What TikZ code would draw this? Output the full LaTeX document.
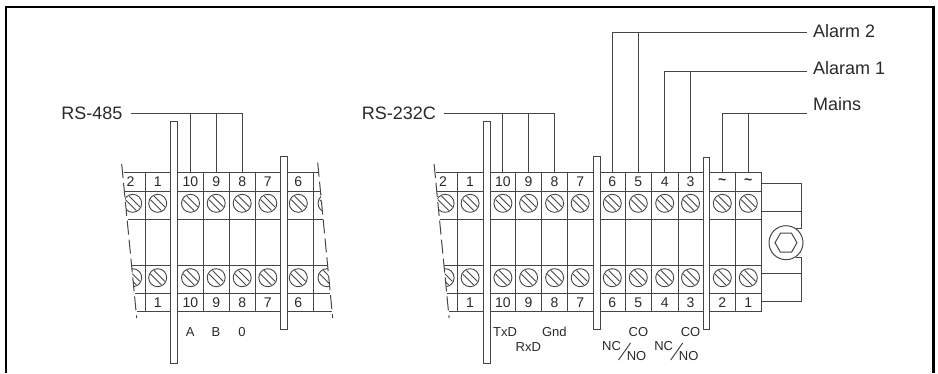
\documentclass[tikz,border=0pt]{standalone}
\usepackage{fontspec}
\setmainfont{Liberation Sans}
\usetikzlibrary{calc,shapes.geometric}
\definecolor{wire}{rgb}{0.27,0.27,0.27}
\definecolor{ink}{rgb}{0.16,0.16,0.16}
\tikzset{
	x=1pt,
	y=-1pt,
	wire/.style={draw=wire, line width=1pt},
	bar/.style={draw=wire, line width=1pt, fill=white},
	screw/.style={draw=wire, line width=0.9pt},
	pin/.style={text=ink, font=\fontsize{14}{14}\selectfont, inner sep=0pt},
	sig/.style={text=ink, font=\fontsize{13}{13}\selectfont, inner sep=0pt},
	tag/.style={text=ink, font=\fontsize{18}{18}\selectfont, inner sep=0pt},
}
% one screw head with its slot
\newcommand{\screwhead}[2]{
	\begin{scope}[shift={(#1,#2)}]
		\draw[screw] (0,0) circle (9);
		\draw[screw] (-7.2,-3.6) -- (3.6,7.2);
		\draw[screw] (-3.6,-7.2) -- (7.2,3.6);
	\end{scope}
}
\begin{document}
\begin{tikzpicture}
	\useasboundingbox (0,0) rectangle (938,373);
	\draw[line width=2.2pt, draw=black] (6,373) -- (6,7) -- (933.5,7) -- (933.5,373);

	% left block and the left part of the right block
	\foreach \off/\xr in {0/320, 312.4/0} {
		\begin{scope}[xshift=\off pt]
			\begin{scope}
				\clip (121.7,164) -- (136.7,318) -- (350,318) -- (350,160) -- cycle;
				\screwhead{132.7}{203.3}
				\screwhead{132.7}{277.7}
			\end{scope}
			\node[pin] (two\xr) at (130.5,182) {2};
			\node[pin] (one\xr) at (157.7,182) {1};
			\node[pin] (onelow\xr) at (157.7,302.5) {1};
			\foreach \c/\t in {190.5/10, 216.2/9, 242.2/8, 267.8/7} {
				\screwhead{\c}{203.3}
				\screwhead{\c}{277.7}
				\node[pin] at (\c,182) {\t};
				\node[pin] at (\c,302.5) {\t};
			}
			\screwhead{157.7}{203.3}
			\screwhead{157.7}{277.7}
			\foreach \c in {145.3, 177.7, 203.3, 229.3, 255.3} {
				\draw[wire] (\c,172.7) -- (\c,311.7);
			}
			\draw[wire, dash pattern=on 14pt off 5pt] (121.7,164) -- (136.7,318);
		\end{scope}
	}

	% left block, right end
	\begin{scope}
		\clip (200,160) -- (317.7,162.7) -- (332.7,318) -- (200,318) -- cycle;
		\screwhead{327}{203.3}
		\screwhead{327}{277.7}
	\end{scope}
	\screwhead{298.3}{203.3}
	\screwhead{298.3}{277.7}
	\node[pin] at (298.3,182) {6};
	\node[pin] at (298.3,302.5) {6};
	\draw[wire] (313.3,172.7) -- (313.3,311.7);
	\draw[wire, dash pattern=on 14pt off 5pt] (317.7,162.7) -- (332.7,318);
	\foreach \y/\xa/\xb in {172.7/123.5/318.5, 191.7/125/320.5, 219.3/127.5/323, 265.7/132/327.5, 293.3/135/330, 311.7/137/332} {
		\draw[wire] (\xa,\y) -- (\xb,\y);
	}
	\node[bar, rectangle, minimum width=7pt, minimum height=241.6pt, inner sep=0pt] (barA) at (174.2,242.5) {};
	\node[bar, rectangle, minimum width=7pt, minimum height=172.4pt, inner sep=0pt] (barB) at (284.4,243) {};

	% right block
	\foreach \y/\xa in {172.7/435.9, 191.7/437.4, 219.3/439.9, 265.7/444.4, 293.3/447.4, 311.7/449.4} {
		\draw[wire] (\xa,\y) -- (761.7,\y);
	}
	\foreach \c/\t/\b in {612.3/6/6, 638.3/5/5, 664.7/4/4, 690.5/3/3, 722.3/\textbf{\textasciitilde}/2, 748.3/\textbf{\textasciitilde}/1} {
		\screwhead{\c}{203.3}
		\screwhead{\c}{277.7}
		\node[pin] at (\c,182) {\t};
		\node[pin] at (\c,302.5) {\b};
	}
	\foreach \c in {625.7, 651.7, 678, 735.7, 761.7} {
		\draw[wire] (\c,172.7) -- (\c,311.7);
	}
	\node[bar, rectangle, minimum width=7pt, minimum height=241.6pt, inner sep=0pt] (barC) at (486.6,242.5) {};
	\node[bar, rectangle, minimum width=7pt, minimum height=172.4pt, inner sep=0pt] (barD) at (596.7,243) {};
	\node[bar, rectangle, minimum width=6pt, minimum height=172pt, inner sep=0pt] (barE) at (706.3,243) {};

	% mounting foot
	\node[circle, draw=wire, line width=1pt, minimum size=34pt, inner sep=0pt] (bolt) at (786,242.7) {};
	\node[regular polygon, regular polygon sides=6, draw=wire, line width=1pt, minimum size=22pt, inner sep=0pt] (hex) at (786,242.7) {};
	\coordinate (footA) at (801,228);
	\coordinate (footB) at (801,257);
	\draw[wire] (761.7,183.3) -| (footA) -- (796,228);
	\draw[wire] (761.7,301) -| (footB) -- (796,257);
	\draw[wire] (761.7,211.7) -- (801,211.7);
	\draw[wire] (761.7,273.3) -- (801,273.3);

	% labels and leaders
	\node[tag, anchor=east] (rs485) at (122.5,113.3) {RS-485};
	\node[tag, anchor=east] (rs232) at (436,113.3) {RS-232C};
	\node[tag, anchor=west] (alarm2) at (813,31.5) {Alarm 2};
	\node[tag, anchor=west] (alarm1) at (813,68) {Alaram 1};
	\node[tag, anchor=west] (mains) at (813,104) {Mains};

	\coordinate (d10) at (190.3,172.7);
	\coordinate (d9) at (216,172.7);
	\coordinate (d8) at (242.3,172.7);
	\draw[wire] (rs485.east) ++(8,0) -| (d8);
	\draw[wire] (d10) -- ++(0,-59.4);
	\draw[wire] (d9) -- ++(0,-59.4);

	\coordinate (e10) at (502.3,172.7);
	\coordinate (e9) at (528,172.7);
	\coordinate (e8) at (554.3,172.7);
	\draw[wire] (rs232.east) ++(8,0) -| (e8);
	\draw[wire] (e10) -- ++(0,-59.4);
	\draw[wire] (e9) -- ++(0,-59.4);

	\coordinate (al2) at (806.7,32.3);
	\coordinate (al1) at (806.7,71.3);
	\coordinate (mn) at (806.7,113.3);
	\draw[wire] (al2) -| (612.3,172.7);
	\draw[wire] (638.3,32.3) -- (638.3,172.7);
	\draw[wire] (al1) -| (664.7,172.7);
	\draw[wire] (690.3,71.3) -- (690.3,172.7);
	\draw[wire] (mn) -| (722.3,172.7);
	\draw[wire] (748.3,113.3) -- (748.3,172.7);

	% signal names
	\node[sig] (sa) at (190.3,332.3) {A};
	\node[sig] (sb) at (216,332.3) {B};
	\node[sig] (so) at (242,332.3) {0};
	\node[sig] (txd) at (505,332.3) {TxD};
	\node[sig] (rxd) at (528.3,346.7) {RxD};
	\node[sig] (gnd) at (554.3,332.3) {Gnd};
	\foreach \c in {0, 52.2} {
		\begin{scope}[xshift=\c pt]
			\node[sig] at (638.4,331.7) {CO};
			\node[sig] at (611.5,345.7) {NC};
			\node[sig] at (636.5,356) {NO};
			\draw[wire] (618.5,360) -- (630.5,343);
		\end{scope}
	}
\end{tikzpicture}
\end{document}
